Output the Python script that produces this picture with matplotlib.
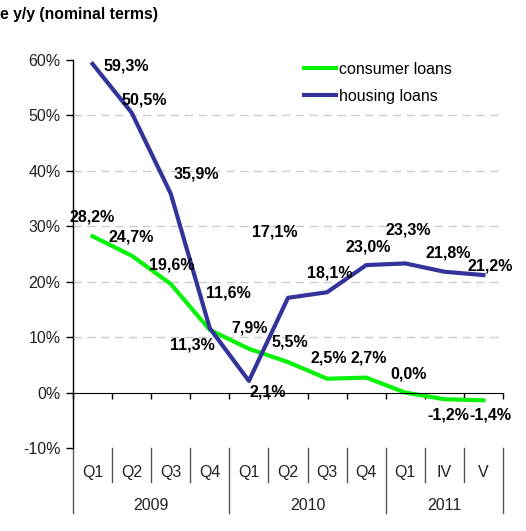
import matplotlib
matplotlib.use('Agg')
import matplotlib.pyplot as plt
from matplotlib.lines import Line2D

plt.rcParams['font.family'] = ['Liberation Sans', 'DejaVu Sans']

periods = ['Q1', 'Q2', 'Q3', 'Q4', 'Q1', 'Q2', 'Q3', 'Q4', 'Q1', 'IV', 'V']
years = ['2009', '2010', '2011']
year_spans = [(0, 4), (4, 8), (8, 11)]

consumer = [28.2, 24.7, 19.6, 11.3, 7.9, 5.5, 2.5, 2.7, 0.0, -1.2, -1.4]
housing = [59.3, 50.5, 35.9, 11.6, 2.1, 17.1, 18.1, 23.0, 23.3, 21.8, 21.2]

# label offsets in pixels (dx, dy up)
consumer_offsets = [(0, 19), (0, 19), (1, 19), (-17, -15), (1, 21), (2, 20),
                    (2, 21), (3, 20), (3, 19), (4, -16), (7, -15)]
housing_offsets = [(34, -2), (13, 13), (26, 20), (19, 35), (19, -11), (-13, 66),
                   (3, 19), (2, 18), (3, 33), (4, 19), (7, 9)]

fig = plt.figure(figsize=(5.26, 5.31), dpi=100)
ax = fig.add_axes([73 / 526, 1 - 448 / 531, 430 / 526, 388 / 531])

x = [i + 0.5 for i in range(len(periods))]
ax.plot(x, consumer, color='#0af20a', lw=3, label='consumer loans', solid_joinstyle='round')
ax.plot(x, housing, color='#333399', lw=3, label='housing loans', solid_joinstyle='round')


def fmt(v):
    return f'{v:.1f}'.replace('.', ',') + '%'


for xs, vals, offs in ((x, consumer, consumer_offsets), (x, housing, housing_offsets)):
    for xi, v, (dx, dy) in zip(xs, vals, offs):
        ax.annotate(fmt(v), (xi, v), xytext=(dx, dy), textcoords='offset pixels',
                    ha='center', va='center', fontsize=11.5, fontweight='bold')

ax.set_xlim(0, len(periods))
ax.set_ylim(-10, 60)
ax.set_yticks(range(-10, 61, 10))
ax.set_yticklabels([f'{v}%' for v in range(-10, 61, 10)], fontsize=11.5, color='#222222')
ax.tick_params(axis='y', length=5, width=1, pad=4)
for v in range(10, 51, 10):
    ax.axhline(v, color='#cccccc', lw=1, ls=(0, (6, 4)), zorder=0)

ax.spines['top'].set_visible(False)
ax.spines['right'].set_visible(False)
ax.spines['bottom'].set_position(('data', 0))
ax.spines['left'].set_linewidth(1)
ax.set_xticks(range(len(periods) + 1))
ax.set_xticklabels([])
ax.tick_params(axis='x', length=4, width=1, direction='out')

trans = ax.get_xaxis_transform()
for i, p in enumerate(periods):
    ax.text(i + 0.5, -0.062, p, transform=trans, ha='center', va='center',
            fontsize=11.5, color='#222222')
group_edges = {s for s, e in year_spans} | {e for s, e in year_spans}
for b in range(len(periods) + 1):
    y0 = -0.1675 if b in group_edges else -0.0876
    ax.add_line(Line2D([b, b], [0, y0], transform=trans, color='#555555', lw=1, clip_on=False))
for yr, (s, e) in zip(years, year_spans):
    ax.text((s + e) / 2, -0.147, yr, transform=trans, ha='center', va='center',
            fontsize=11.5, color='#222222')

fig.legend(loc='upper left', bbox_to_anchor=(304 / 526, 1 - 62 / 531), frameon=False,
           fontsize=11.5, borderaxespad=0, borderpad=0, handlelength=2.0,
           handletextpad=0.2, labelspacing=0.75)

fig.text(0, 1 - 14 / 531, 'e y/y (nominal terms)', ha='left', va='center',
         fontsize=11.3, fontweight='bold')

fig.savefig('out.png', dpi=100)
